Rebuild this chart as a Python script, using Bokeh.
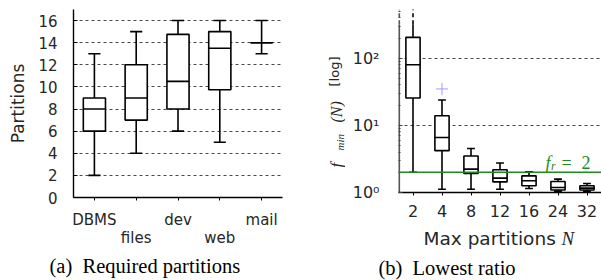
from bokeh.plotting import figure
from bokeh.layouts import row, column
from bokeh.models import (Range1d, FixedTicker, LinearAxis, Span, Title, Label,
                          CustomJSTickFormatter)
from bokeh.core.properties import value
from bokeh.embed import file_html
from bokeh.resources import INLINE

# ---------------- data: (a) required partitions ----------------
categories = ["DBMS", "files", "dev", "web", "mail"]
a_low = [2, 4, 6, 5, 13]
a_q1 = [6, 7, 8, 9.75, 14]
a_med = [8, 9, 10.5, 13.5, 14]
a_q3 = [9, 12, 14.75, 15, 14]
a_high = [13, 15, 16, 16, 16]
a_yticks = [0, 2, 4, 6, 8, 10, 12, 14, 16]

# ---------------- data: (b) lowest ratio ----------------
n_labels = ["2", "4", "8", "12", "16", "24", "32"]
b_low = [2.0, 1.12, 1.12, 1.12, 1.15, 1.05, 1.05]
b_q1 = [25.6, 4.2, 1.92, 1.44, 1.26, 1.09, 1.09]
b_med = [80.0, 6.6, 2.23, 1.64, 1.5, 1.19, 1.16]
b_q3 = [205.0, 13.9, 3.49, 2.18, 1.77, 1.46, 1.26]
b_high = [1500.0, 23.9, 4.53, 2.75, 2.04, 1.58, 1.36]
b_outlier_n = ["4"]
b_outlier_v = [34.9]
f_r = 2
axis_break = 320.0

TXT = "#262626"
SANS = "DejaVu Sans"
SERIF = "Liberation Serif"
GREEN = "#1f8a1f"
NBSP = "\u00a0"


def boxplot(p, xs, low, q1, med, q3, high, bw, cw, lw=1.6, top_dash_from=None):
    hi_solid = high if top_dash_from is None else [min(h, top_dash_from) for h in high]
    p.segment(x0=xs, y0=q3, x1=xs, y1=hi_solid, line_color="black", line_width=lw)
    p.segment(x0=xs, y0=q1, x1=xs, y1=low, line_color="black", line_width=lw)
    if top_dash_from is not None:
        dx = [x for x, h in zip(xs, high) if h > top_dash_from]
        dh = [h for h in high if h > top_dash_from]
        p.segment(x0=dx, y0=[top_dash_from] * len(dx), x1=dx, y1=dh,
                  line_color="black", line_width=lw, line_dash="4 3")
    capx = [(x, h) for x, h in zip(xs, high) if top_dash_from is None or h <= top_dash_from]
    p.segment(x0=[x - cw / 2 for x, _ in capx], y0=[h for _, h in capx],
              x1=[x + cw / 2 for x, _ in capx], y1=[h for _, h in capx],
              line_color="black", line_width=lw)
    p.segment(x0=[x - cw / 2 for x in xs], y0=low, x1=[x + cw / 2 for x in xs], y1=low,
              line_color="black", line_width=lw)
    p.vbar(x=xs, width=bw, bottom=q1, top=q3, fill_color="white",
           line_color="black", line_width=lw)
    p.segment(x0=[x - bw / 2 for x in xs], y0=med, x1=[x + bw / 2 for x in xs], y1=med,
              line_color="black", line_width=lw)


def text_panel(w, h):
    """A bare figure whose data coordinates are pixels."""
    p = figure(width=w, height=h, output_backend="svg", toolbar_location=None,
               title=None, x_range=Range1d(0, w), y_range=Range1d(0, h),
               x_axis_location=None, y_axis_location=None, frame_align=False,
               min_border=0, min_border_left=0, min_border_right=0,
               min_border_top=0, min_border_bottom=0)
    p.outline_line_color = None
    p.grid.visible = False
    return p


def put(p, h, x, y, txt, font, size, style="normal", color=TXT, align="left", angle=0.0):
    # y is measured from the top of the panel
    p.text(x=[x], y=[h - y], text=[txt], angle=angle, text_font=value(font),
           text_font_size=size, text_font_style=style, text_color=color,
           text_align=align, text_baseline="alphabetic")


# =============== figure (a) ===============
xa = list(range(1, len(categories) + 1))
pa = figure(width=300, height=280, output_backend="svg", toolbar_location=None,
            title=None, frame_align=False,
            x_range=Range1d(0.5, len(categories) + 0.5), y_range=Range1d(0, 17),
            min_border_left=73, min_border_right=18, min_border_top=9,
            min_border_bottom=83)
pa.outline_line_color = None
pa.xgrid.visible = False
pa.ygrid.ticker = FixedTicker(ticks=[t for t in a_yticks if t > 0])
pa.ygrid.grid_line_color = "#333333"
pa.ygrid.grid_line_dash = "3 3"
pa.ygrid.grid_line_width = 0.9

ya = pa.yaxis[0]
ya.ticker = FixedTicker(ticks=a_yticks)
ya.major_tick_in = 4
ya.major_tick_out = 0
ya.minor_tick_line_color = None
ya.axis_line_color = "black"
ya.axis_line_width = 1.4
ya.major_label_standoff = 16
ya.major_label_text_font = SANS
ya.major_label_text_font_size = "15px"
ya.major_label_text_color = TXT
ya.axis_label = "Partitions"
ya.axis_label_text_font = SANS
ya.axis_label_text_font_style = "normal"
ya.axis_label_text_font_size = "17px"
ya.axis_label_text_color = TXT
ya.axis_label_standoff = 7

xa_ax = pa.xaxis[0]
xa_ax.ticker = FixedTicker(ticks=xa)
xa_ax.major_label_overrides = {i + 1: (c if i % 2 == 0 else "") for i, c in enumerate(categories)}
xa_ax.major_tick_in = 0
xa_ax.major_tick_out = 3
xa_ax.minor_tick_line_color = None
xa_ax.axis_line_color = "black"
xa_ax.axis_line_width = 1.4
xa_ax.major_label_standoff = 10
xa_ax.major_label_text_font = SANS
xa_ax.major_label_text_font_size = "15px"
xa_ax.major_label_text_color = TXT

xa2 = LinearAxis(ticker=FixedTicker(ticks=[i + 1 for i in range(len(categories)) if i % 2 == 1]),
                 major_label_overrides={i + 1: c for i, c in enumerate(categories) if i % 2 == 1},
                 axis_line_color=None, major_tick_line_color=None,
                 major_tick_in=0, major_tick_out=0,
                 minor_tick_line_color=None, minor_tick_in=0, minor_tick_out=0,
                 major_label_standoff=-3,
                 major_label_text_font=SANS, major_label_text_font_size="15px",
                 major_label_text_color=TXT)
pa.add_layout(xa2, "below")

pa.add_layout(Title(text="(a)" + NBSP + " Required partitions", align="left", offset=-24,
                    text_font=SERIF, text_font_size="20.5px", text_font_style="normal",
                    text_color="black", standoff=6), "below")

boxplot(pa, xa, a_low, a_q1, a_med, a_q3, a_high, bw=0.53, cw=0.29)

# =============== figure (b) ===============
TOP_H = 226
xb = list(range(1, len(n_labels) + 1))
pb = figure(width=256, height=TOP_H, output_backend="svg", toolbar_location=None,
            title=None, frame_align=False,
            y_axis_type="log", x_range=Range1d(0.5, len(n_labels) + 0.5),
            y_range=Range1d(1, 533),
            min_border_left=53, min_border_right=0, min_border_top=9,
            min_border_bottom=34)
pb.outline_line_color = None
pb.xgrid.visible = False
pb.ygrid.ticker = FixedTicker(ticks=[10, 100])
pb.ygrid.grid_line_color = "#333333"
pb.ygrid.grid_line_dash = "3 3"
pb.ygrid.grid_line_width = 0.9

minors = [m * 10 ** e for e in range(0, 3) for m in range(2, 10)]
yb = pb.yaxis[0]
yb.ticker = FixedTicker(ticks=[1, 10, 100], minor_ticks=minors)
yb.formatter = CustomJSTickFormatter(code="""
const e = Math.round(Math.log10(tick));
const sup = ['\\u2070', '\\u00b9', '\\u00b2', '\\u00b3'];
return '10' + sup[e];
""")
yb.major_tick_in = 4
yb.major_tick_out = 0
yb.minor_tick_in = 2
yb.minor_tick_out = 0
yb.axis_line_color = None
yb.major_tick_line_color = "#444444"
yb.minor_tick_line_color = "#444444"
yb.major_label_standoff = 19
yb.major_label_text_font = SANS
yb.major_label_text_font_size = "16px"
yb.major_label_text_color = TXT

xb_ax = pb.xaxis[0]
xb_ax.ticker = FixedTicker(ticks=xb)
xb_ax.major_label_overrides = {i + 1: s for i, s in enumerate(n_labels)}
xb_ax.major_tick_in = 0
xb_ax.major_tick_out = 3
xb_ax.minor_tick_line_color = None
xb_ax.axis_line_color = "black"
xb_ax.axis_line_width = 1.4
xb_ax.major_label_standoff = 9
xb_ax.major_label_text_font = SANS
xb_ax.major_label_text_font_size = "16px"
xb_ax.major_label_text_color = TXT

# left spine: solid up to the break, dashed above
pb.segment(x0=[0.5], y0=[1], x1=[0.5], y1=[axis_break], line_color="#555555", line_width=3.2)
pb.segment(x0=[0.5], y0=[axis_break], x1=[0.5], y1=[533], line_color="#555555",
           line_width=3.2, line_dash="4 3")

pb.add_layout(Span(location=f_r, dimension="width", line_color=GREEN, line_width=1.6))

boxplot(pb, xb, b_low, b_q1, b_med, b_q3, b_high, bw=0.49, cw=0.27, top_dash_from=axis_break)
pb.scatter(x=[n_labels.index(n) + 1 for n in b_outlier_n], y=b_outlier_v, marker="cross",
           size=12, line_color="#9c9cff", line_width=1)

# f_r = 2 annotation (inside the frame, pixel offsets from the frame's bottom-left)
for txt, xo, yo, style, size in [("f", 147, 29.7, "italic", "18px"),
                                 ("r", 152.5, 26.5, "italic", "12px"),
                                 ("=", 163, 29.7, "normal", "18px"),
                                 (str(f_r), 183, 29.7, "normal", "18px")]:
    pb.add_layout(Label(x=0.5, y=1, x_offset=xo, y_offset=yo, text=txt,
                        text_font=SERIF, text_font_style=style, text_font_size=size,
                        text_color=GREEN, text_baseline="alphabetic"))

# y-axis label panel for (b): f_min(N) [log]
YW = 45
ylab = text_panel(YW, TOP_H)
ROT = 1.5707963
put(ylab, TOP_H, 36, 167, "f", SERIF, "17px", style="italic", angle=ROT)
put(ylab, TOP_H, 39.5, 150, "min", SERIF, "11px", style="italic", angle=ROT)
put(ylab, TOP_H, 36, 122, "(N)", SERIF, "16px", style="italic", angle=ROT)
put(ylab, TOP_H, 34, 86, "[log]", SANS, "13px", angle=ROT)

# bottom panel for (b): x-axis label and caption
BW, BH = 301, 280 - TOP_H
bot = text_panel(BW, BH)
put(bot, BH, 123, 237.5 - TOP_H, "Max partitions", SANS, "18.5px")
put(bot, BH, 261, 237.5 - TOP_H, "N", SERIF, "19px", style="italic")
put(bot, BH, 146.5, 267 - TOP_H, "(b)" + NBSP + " Lowest ratio", SERIF, "20.5px",
    color="black", align="center")

layout = row(pa, column(row(ylab, pb), bot))
open("out.html", "w").write(file_html(layout, INLINE))
